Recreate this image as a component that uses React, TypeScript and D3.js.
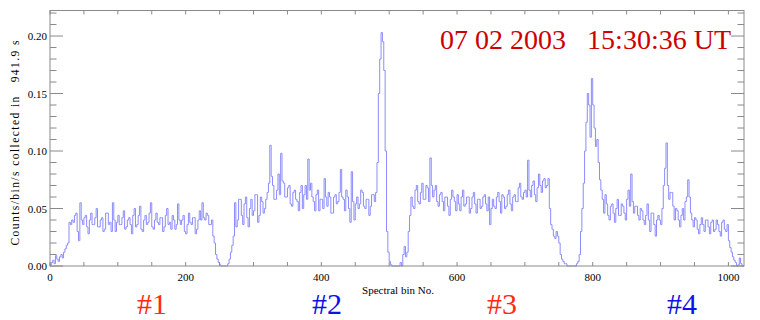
import React from "react";
import * as d3 from "d3";

// Spectrum values, one per 2 spectral bins (bins 0..1023)
const counts: number[] = [
  // 0-31
  0.001, 0.003, 0.005, 0.002, 0.009, 0.006, 0.004, 0.008, 0.010, 0.007, 0.012, 0.015, 0.018, 0.020, 0.038, 0.036,
  // 32-63
  0.040, 0.038, 0.044, 0.046, 0.030, 0.022, 0.055, 0.040, 0.036, 0.042, 0.044, 0.034, 0.028, 0.040, 0.046, 0.036,
  // 64-95
  0.036, 0.042, 0.050, 0.034, 0.034, 0.040, 0.042, 0.030, 0.032, 0.046, 0.046, 0.036, 0.038, 0.030, 0.055, 0.040,
  // 96-127
  0.030, 0.038, 0.044, 0.036, 0.036, 0.042, 0.048, 0.032, 0.034, 0.040, 0.042, 0.036, 0.028, 0.044, 0.050, 0.034,
  // 128-159
  0.036, 0.044, 0.052, 0.032, 0.030, 0.040, 0.044, 0.036, 0.038, 0.046, 0.055, 0.034, 0.032, 0.040, 0.046, 0.038,
  // 160-191
  0.036, 0.042, 0.042, 0.030, 0.034, 0.044, 0.050, 0.036, 0.038, 0.032, 0.044, 0.040, 0.032, 0.036, 0.054, 0.040,
  // 192-223
  0.036, 0.040, 0.044, 0.030, 0.028, 0.036, 0.046, 0.038, 0.036, 0.042, 0.042, 0.028, 0.032, 0.040, 0.048, 0.040,
  // 224-255
  0.055, 0.042, 0.040, 0.046, 0.044, 0.036, 0.036, 0.040, 0.026, 0.020, 0.010, 0.006, 0.003, 0.001, 0.000, 0.000,
  // 256-287
  0.000, 0.000, 0.000, 0.002, 0.006, 0.012, 0.018, 0.026, 0.055, 0.034, 0.040, 0.058, 0.058, 0.044, 0.036, 0.054,
  // 288-319
  0.060, 0.042, 0.034, 0.050, 0.058, 0.044, 0.048, 0.062, 0.062, 0.038, 0.044, 0.060, 0.056, 0.046, 0.050, 0.058,
  // 320-351
  0.064, 0.072, 0.105, 0.078, 0.070, 0.058, 0.058, 0.066, 0.080, 0.062, 0.098, 0.074, 0.072, 0.060, 0.060, 0.068,
  // 352-383
  0.070, 0.054, 0.052, 0.064, 0.066, 0.058, 0.056, 0.048, 0.064, 0.070, 0.050, 0.062, 0.070, 0.058, 0.093, 0.066,
  // 384-415
  0.072, 0.060, 0.056, 0.048, 0.062, 0.066, 0.048, 0.058, 0.058, 0.050, 0.076, 0.060, 0.052, 0.064, 0.060, 0.046,
  // 416-447
  0.046, 0.060, 0.062, 0.054, 0.056, 0.064, 0.084, 0.060, 0.058, 0.048, 0.066, 0.060, 0.050, 0.038, 0.082, 0.056,
  // 448-479
  0.040, 0.054, 0.060, 0.050, 0.054, 0.066, 0.064, 0.052, 0.050, 0.058, 0.058, 0.044, 0.052, 0.062, 0.062, 0.056,
  // 480-511
  0.064, 0.090, 0.150, 0.180, 0.203, 0.195, 0.170, 0.100, 0.030, 0.012, 0.004, 0.001, 0.000, 0.000, 0.000, 0.000,
  // 512-543
  0.000, 0.000, 0.003, 0.000, 0.010, 0.017, 0.008, 0.012, 0.030, 0.044, 0.060, 0.052, 0.050, 0.066, 0.070, 0.056,
  // 544-575
  0.054, 0.064, 0.072, 0.058, 0.058, 0.070, 0.068, 0.056, 0.094, 0.070, 0.060, 0.066, 0.070, 0.056, 0.052, 0.062,
  // 576-607
  0.064, 0.056, 0.048, 0.060, 0.060, 0.052, 0.044, 0.058, 0.066, 0.060, 0.056, 0.048, 0.062, 0.054, 0.048, 0.060,
  // 608-639
  0.066, 0.052, 0.054, 0.060, 0.060, 0.046, 0.050, 0.060, 0.064, 0.054, 0.046, 0.058, 0.058, 0.050, 0.052, 0.060,
  // 640-671
  0.062, 0.054, 0.048, 0.060, 0.036, 0.050, 0.058, 0.052, 0.050, 0.060, 0.064, 0.056, 0.046, 0.062, 0.060, 0.050,
  // 672-703
  0.052, 0.062, 0.066, 0.054, 0.048, 0.060, 0.062, 0.056, 0.056, 0.068, 0.072, 0.060, 0.058, 0.064, 0.066, 0.060,
  // 704-735
  0.092, 0.066, 0.060, 0.070, 0.074, 0.062, 0.056, 0.068, 0.080, 0.070, 0.064, 0.074, 0.076, 0.068, 0.070, 0.076,
  // 736-767
  0.050, 0.036, 0.032, 0.026, 0.024, 0.030, 0.026, 0.020, 0.010, 0.006, 0.004, 0.002, 0.002, 0.000, 0.000, 0.000,
  // 768-799
  0.000, 0.000, 0.000, 0.000, 0.002, 0.004, 0.010, 0.030, 0.050, 0.072, 0.100, 0.125, 0.150, 0.140, 0.112, 0.163,
  // 800-831
  0.140, 0.120, 0.104, 0.110, 0.090, 0.075, 0.066, 0.058, 0.046, 0.062, 0.054, 0.044, 0.040, 0.052, 0.054, 0.046,
  // 832-863
  0.038, 0.050, 0.058, 0.044, 0.044, 0.054, 0.052, 0.046, 0.040, 0.058, 0.066, 0.052, 0.080, 0.056, 0.046, 0.052,
  // 864-895
  0.052, 0.044, 0.040, 0.050, 0.048, 0.040, 0.036, 0.044, 0.054, 0.040, 0.030, 0.046, 0.046, 0.036, 0.026, 0.040,
  // 896-927
  0.044, 0.040, 0.036, 0.050, 0.070, 0.085, 0.107, 0.070, 0.058, 0.064, 0.064, 0.052, 0.040, 0.050, 0.048, 0.040,
  // 928-959
  0.034, 0.044, 0.050, 0.040, 0.056, 0.060, 0.075, 0.060, 0.046, 0.040, 0.034, 0.042, 0.040, 0.032, 0.028, 0.036,
  // 960-991
  0.042, 0.036, 0.030, 0.040, 0.040, 0.034, 0.028, 0.038, 0.040, 0.030, 0.032, 0.040, 0.036, 0.030, 0.026, 0.038,
  // 992-1023
  0.040, 0.032, 0.030, 0.036, 0.022, 0.016, 0.012, 0.008, 0.005, 0.003, 0.000, 0.001, 0.007, 0.002, 0.000, 0.000,
];
const BIN_STEP = 2;

const xMajorTicks = [0, 200, 400, 600, 800, 1000];
const yMajorTicks = [0, 0.05, 0.1, 0.15, 0.2];
const title = "07 02 2003   15:30:36 UT";
const yLabel = "Counts/bin/s collected in   941.9 s";
const xLabel = "Spectral bin No.";
const segLabels = ["#1", "#2", "#3", "#4"];
const segColors = ["#ff2a12", "#1010e8", "#ff2a12", "#1010e8"];
const segCenters = [152, 327, 502, 682];

const W = 760, H = 320;
const L = 50, R = 744, T = 10.5, B = 266;
const serif = "'Liberation Serif', 'DejaVu Serif', serif";

export default function App() {
  const x = d3.scaleLinear().domain([0, 1023]).range([L, R]);
  const y = d3.scaleLinear().domain([0, 0.2222]).range([B, T]);
  const pts: [number, number][] = counts.map((v, i) => [i * BIN_STEP, v]);
  pts.push([1023, counts[counts.length - 1]]);
  const line = d3
    .line<[number, number]>()
    .x((d) => x(d[0]))
    .y((d) => y(d[1]))
    .curve(d3.curveStepAfter);

  const xMinor = d3.range(0, 1024, 50);
  const yMinor = d3.range(0, 0.2221, 0.01);
  const axisColor = "#8a8a8a";

  return (
    <svg
      width={W}
      height={H}
      style={{ position: "absolute", left: 0, top: 0, background: "#fff" }}
    >
      <rect x={0} y={0} width={W} height={H} fill="#fff" />
      {/* data */}
      <path d={line(pts) || ""} fill="none" stroke="#8c8cff" strokeWidth={1} />
      {/* frame */}
      <rect x={L} y={T} width={R - L} height={B - T} fill="none" stroke={axisColor} strokeWidth={1} />
      {/* x ticks */}
      {xMinor.map((t) => (
        <g key={"xt" + t}>
          <line x1={x(t)} x2={x(t)} y1={B} y2={B - 4} stroke={axisColor} />
          <line x1={x(t)} x2={x(t)} y1={T} y2={T + 4} stroke={axisColor} />
        </g>
      ))}
      {/* y ticks */}
      {yMinor.map((t, i) => {
        const major = i % 5 === 0;
        const len = major ? 13 : 6.5;
        return (
          <g key={"yt" + i}>
            <line x1={L} x2={L + len} y1={y(t)} y2={y(t)} stroke={axisColor} />
            <line x1={R} x2={R - len} y1={y(t)} y2={y(t)} stroke={axisColor} />
          </g>
        );
      })}
      {/* tick labels */}
      {xMajorTicks.map((t) => (
        <text key={"xl" + t} x={x(t)} y={281} textAnchor="middle" fontFamily={serif} fontSize={11} fill="#000">
          {t}
        </text>
      ))}
      {yMajorTicks.map((t) => (
        <text key={"yl" + t} x={47} y={y(t) + 4} textAnchor="end" fontFamily={serif} fontSize={11} fill="#000">
          {t.toFixed(2)}
        </text>
      ))}
      {/* axis titles */}
      <text x={398} y={294} textAnchor="middle" fontFamily={serif} fontSize={11} fill="#000">
        {xLabel}
      </text>
      <text
        transform={`translate(19,${143}) rotate(-90)`}
        textAnchor="middle"
        fontFamily={serif}
        fontSize={11.5}
        fill="#000"
        textLength={205}
        lengthAdjust="spacing"
        style={{ whiteSpace: "pre" }}
      >
        {yLabel}
      </text>
      {/* title */}
      <text
        x={731}
        y={49}
        textAnchor="end"
        fontFamily={serif}
        fontSize={28}
        fill="#cc0000"
        style={{ whiteSpace: "pre" }}
      >
        {title}
      </text>
      {/* segment labels */}
      {segLabels.map((s, i) => (
        <text
          key={s}
          x={segCenters[i]}
          y={314}
          textAnchor="middle"
          fontFamily={serif}
          fontSize={30}
          fill={segColors[i]}
        >
          {s}
        </text>
      ))}
    </svg>
  );
}
